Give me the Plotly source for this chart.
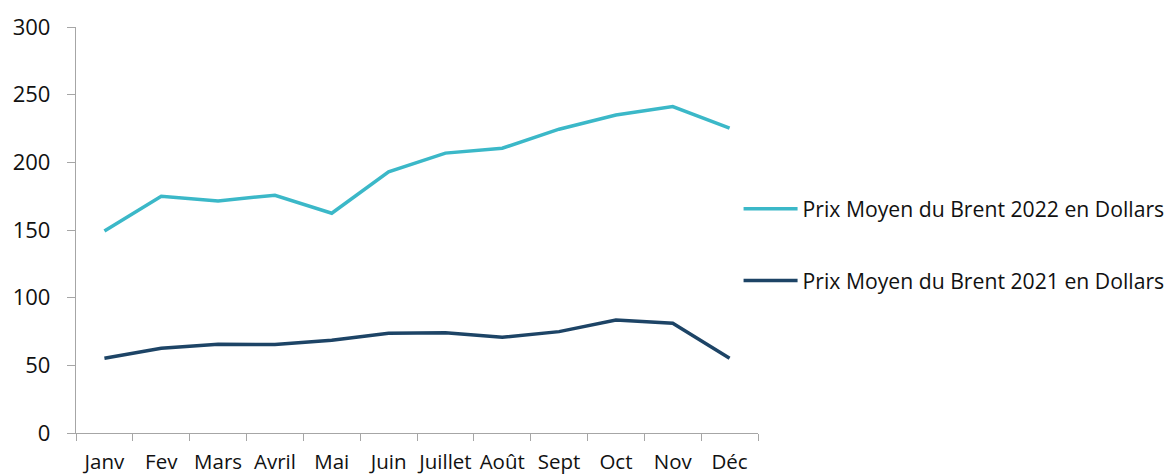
import plotly.graph_objects as go

months = ["Janv", "Fev", "Mars", "Avril", "Mai", "Juin", "Juillet", "Août", "Sept", "Oct", "Nov", "Déc"]
brent_2022 = [149.3, 175.0, 171.5, 175.7, 162.4, 192.9, 206.8, 210.4, 224.5, 235.0, 241.2, 225.2]
brent_2021 = [55.2, 62.6, 65.6, 65.4, 68.5, 73.7, 74.1, 70.7, 74.9, 83.5, 81.1, 55.2]
name_2022 = "Prix Moyen du Brent 2022 en Dollars"
name_2021 = "Prix Moyen du Brent 2021 en Dollars"
y_ticks = [0, 50, 100, 150, 200, 250, 300]

FONT = "Open Sans"
fig = go.Figure()
fig.add_trace(go.Scatter(x=months, y=brent_2022, mode="lines", name=name_2022,
                         line=dict(color="#3BB8C8", width=3.5), legend="legend"))
fig.add_trace(go.Scatter(x=months, y=brent_2021, mode="lines", name=name_2021,
                         line=dict(color="#1D4466", width=3.5), legend="legend2"))

axis_gray = "#A6A6A6"
fig.update_layout(
    width=1167, height=475,
    margin=dict(l=76, r=409, t=27, b=42, autoexpand=False),
    paper_bgcolor="white", plot_bgcolor="white",
    font=dict(family=FONT, color="#111111", size=20),
    showlegend=True,
    legend=dict(x=0.9715, y=0.552, xanchor="left", yanchor="middle",
                font=dict(family=FONT, size=21.2, color="#111111"),
                itemwidth=54, bgcolor="rgba(0,0,0,0)"),
    legend2=dict(x=0.9715, y=0.375, xanchor="left", yanchor="middle",
                 font=dict(family=FONT, size=21.2, color="#111111"),
                 itemwidth=54, bgcolor="rgba(0,0,0,0)"),
    xaxis=dict(type="category", showline=True, linecolor=axis_gray, linewidth=1.3,
               ticks="outside", tickson="boundaries", ticklen=7, tickcolor=axis_gray,
               showgrid=False, zeroline=False, tickfont=dict(size=20.5),
               tickangle=0, automargin=False, range=[-0.5, 11.5],
               ticklabelstandoff=10),
    yaxis=dict(range=[0, 300], tickvals=y_ticks, showline=True, linecolor=axis_gray,
               linewidth=1.3, ticks="outside", ticklen=8, tickcolor=axis_gray,
               showgrid=False, zeroline=False, tickfont=dict(size=22),
               automargin=False, ticklabelstandoff=12),
)
fig.write_html("out.html")
